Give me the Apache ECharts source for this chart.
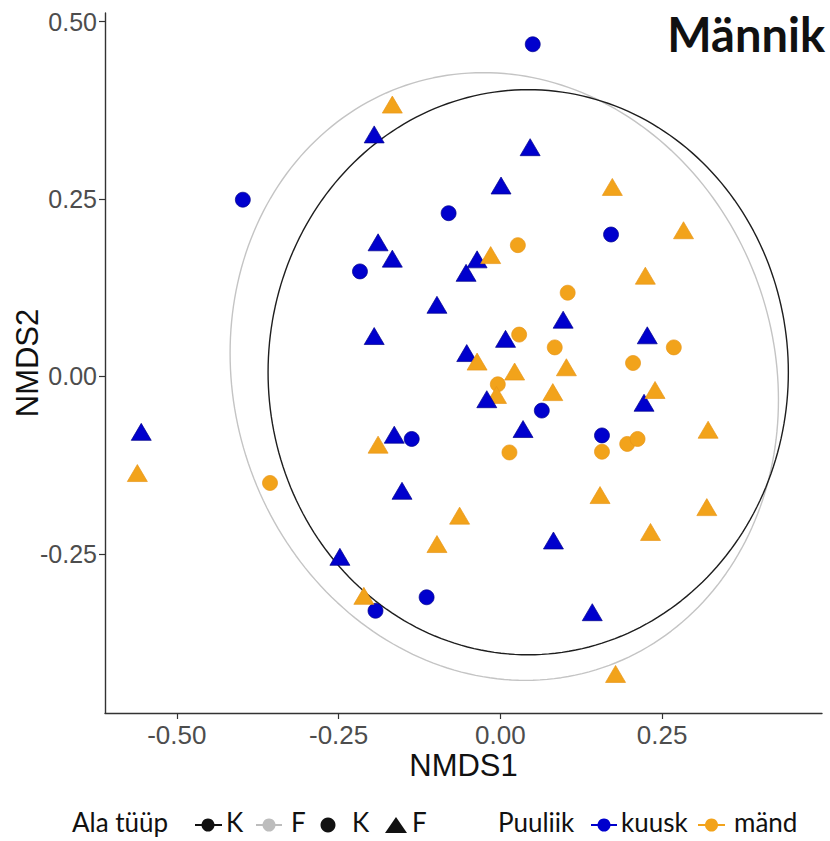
<!DOCTYPE html>
<html>
<head>
<meta charset="utf-8">
<script src="https://cdn.jsdelivr.net/npm/echarts@6/dist/echarts.min.js"></script>
<style>
html,body{margin:0;padding:0;background:#ffffff;}
#chart{width:830px;height:841px;}
</style>
</head>
<body>
<div id="chart"></div>
<script>
// ---- tick labels ----
const xTicks = [-0.5, -0.25, 0, 0.25];
const yTicks = [-0.25, 0, 0.25, 0.5];

// ---- point data [NMDS1, NMDS2] ----
// kuusk (spruce), Ala tüüp K  (circles)
const kuuskK = [
  [0.050, 0.468], [-0.398, 0.249], [-0.080, 0.230], [0.171, 0.200], [-0.217, 0.148],
  [0.064, -0.048], [-0.137, -0.088], [0.157, -0.083], [-0.114, -0.311], [-0.193, -0.330]
];
// kuusk, Ala tüüp F (triangles)
const kuuskF = [
  [-0.195, 0.341], [0.046, 0.323], [0.001, 0.269], [-0.189, 0.189], [-0.167, 0.166],
  [-0.036, 0.165], [-0.053, 0.146], [-0.098, 0.101], [-0.195, 0.057], [0.008, 0.053],
  [0.097, 0.080], [0.227, 0.058], [-0.052, 0.033], [0.035, -0.074],
  [0.222, -0.037], [-0.164, -0.082], [-0.152, -0.161], [-0.555, -0.078], [-0.248, -0.254],
  [0.082, -0.231], [0.142, -0.332]
];
// mänd (pine), Ala tüüp K (circles)
const mandK = [
  [0.027, 0.185], [0.104, 0.118], [0.029, 0.059], [0.084, 0.041], [0.268, 0.041],
  [0.205, 0.019], [-0.004, -0.011], [0.014, -0.107], [0.157, -0.106], [0.196, -0.095],
  [0.212, -0.088], [-0.356, -0.150]
];
// mänd, Ala tüüp F (triangles)
const mandF = [
  [-0.167, 0.383], [0.173, 0.267], [0.283, 0.206], [-0.015, 0.171], [0.224, 0.142],
  [-0.036, 0.021], [0.022, 0.007], [0.102, 0.013], [0.081, -0.022], [0.239, -0.019],
  [0.321, -0.075], [-0.189, -0.096], [0.154, -0.167], [-0.063, -0.196], [-0.098, -0.236],
  [0.319, -0.184], [0.232, -0.219], [-0.211, -0.309], [0.178, -0.419], [-0.561, -0.136],
  [-0.006, -0.026]
];
// drawn last so it sits above the overlapping orange mark
const kuuskFTop = [[-0.021, -0.032]];

// ---- ellipse parameters: [centreX, centreY, radiusX, radiusY, phase] ----
const ellipseK = [0.043, 0.006, 0.402, 0.398, 0.0];
const ellipseF = [0.006, 0.000, 0.4237, 0.428, 0.077];

function ellipsePath(p) {
  const pts = [];
  const n = 240;
  for (let i = 0; i <= n; i++) {
    const t = 2 * Math.PI * i / n;
    pts.push([p[0] + p[2] * Math.cos(t), p[1] + p[3] * Math.sin(t - p[4])]);
  }
  return pts;
}

const BLUE = '#0000cd';
const ORANGE = '#f2a31b';
const FONT = "'Liberation Sans', Arial, sans-serif";
const LFONT = "Lato, 'Liberation Sans', sans-serif";

const chart = echarts.init(document.getElementById('chart'), null, {renderer: 'svg'});

const triSize = [20, 17];
const cirSize = 15;

function scatter(name, data, color, border, symbol, size, z) {
  return {
    name: name, type: 'scatter', data: data, symbol: symbol, symbolSize: size,
    itemStyle: {color: color, borderColor: border, borderWidth: 0.7, opacity: 1},
    emphasis: {disabled: true}, z: z, animation: false
  };
}

function legendText(x, text) {
  return {type: 'text', left: x, top: 809,
    style: {text: text, font: '26px ' + LFONT, fill: '#111'}};
}
function keyLine(x1, x2, color) {
  return {type: 'line', shape: {x1: x1, y1: 825, x2: x2, y2: 825},
    style: {stroke: color, lineWidth: 2}};
}
function keyDot(cx, r, color) {
  return {type: 'circle', shape: {cx: cx, cy: 825, r: r}, style: {fill: color}};
}

chart.setOption({
  animation: false,
  backgroundColor: '#ffffff',
  grid: {left: 105, right: 8, top: 13, bottom: 128, containLabel: false, outerBoundsMode: 'none'},
  xAxis: {
    type: 'value', min: -0.611, max: 0.497,
    splitLine: {show: false},
    axisLine: {onZero: false, lineStyle: {color: '#333333', width: 1.4}},
    axisTick: {customValues: xTicks, length: 6, lineStyle: {color: '#333333', width: 1.2}},
    axisLabel: {customValues: xTicks, formatter: v => v.toFixed(2), fontSize: 26,
      color: '#4d4d4d', fontFamily: FONT, margin: 9},
    name: 'NMDS1', nameLocation: 'middle', nameGap: 37, nameMoveOverlap: false,
    nameTextStyle: {fontSize: 31, color: '#111111', fontFamily: FONT}
  },
  yAxis: {
    type: 'value', min: -0.474, max: 0.512,
    splitLine: {show: false},
    axisLine: {onZero: false, lineStyle: {color: '#333333', width: 1.4}},
    axisTick: {customValues: yTicks, length: 6, lineStyle: {color: '#333333', width: 1.2}},
    axisLabel: {customValues: yTicks, formatter: v => v.toFixed(2), fontSize: 25,
      color: '#4d4d4d', fontFamily: FONT, margin: 8},
    name: 'NMDS2', nameLocation: 'middle', nameGap: 62, nameRotate: 90, nameMoveOverlap: false,
    nameTextStyle: {fontSize: 31, color: '#111111', fontFamily: FONT}
  },
  series: [
    {name: 'ellipse F', type: 'line', data: ellipsePath(ellipseF), showSymbol: false, symbol: 'none',
      lineStyle: {color: '#c4c4c4', width: 1.4}, z: 1, silent: true, animation: false},
    {name: 'ellipse K', type: 'line', data: ellipsePath(ellipseK), showSymbol: false, symbol: 'none',
      lineStyle: {color: '#1e1e1e', width: 1.4}, z: 1, silent: true, animation: false},
    scatter('kuusk K', kuuskK, BLUE, '#00008b', 'circle', cirSize, 3),
    scatter('kuusk F', kuuskF, BLUE, '#00008b', 'triangle', triSize, 3),
    scatter('mänd K', mandK, ORANGE, '#e8961a', 'circle', cirSize, 4),
    scatter('mänd F', mandF, ORANGE, '#e8961a', 'triangle', triSize, 4),
    scatter('kuusk F ', kuuskFTop, BLUE, '#00008b', 'triangle', triSize, 5)
  ],
  graphic: [
    {type: 'text', right: 5, top: 10,
      style: {text: 'Männik', font: 'bold 47px ' + LFONT, fill: '#111111'}},
    legendText(72, 'Ala tüüp'),
    keyLine(195, 222, '#111111'), keyDot(208, 6.5, '#111111'),
    legendText(226, 'K'),
    keyLine(256, 282, '#bdbdbd'), keyDot(269, 6.5, '#bdbdbd'),
    legendText(291, 'F'),
    keyDot(328, 7.5, '#111111'),
    legendText(352, 'K'),
    {type: 'polygon', shape: {points: [[396, 817], [407, 833], [385, 833]]}, style: {fill: '#111111'}},
    legendText(412, 'F'),
    legendText(498, 'Puuliik'),
    keyLine(591, 617, BLUE), keyDot(604, 6.5, BLUE),
    legendText(621, 'kuusk'),
    keyLine(698, 725, ORANGE), keyDot(711.5, 6.5, ORANGE),
    legendText(734, 'mänd')
  ]
});
</script>
</body>
</html>
